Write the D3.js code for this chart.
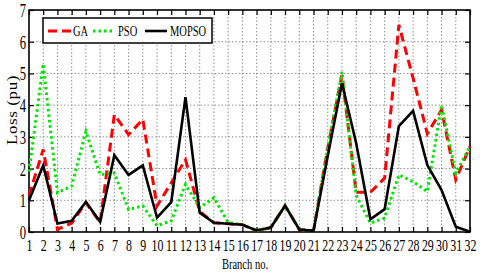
<!DOCTYPE html>
<html>
<head>
<meta charset="utf-8">
<script src="https://cdn.jsdelivr.net/npm/d3@7"></script>
<style>
  body { margin: 0; background: #fff; }
  text { font-family: "Liberation Serif", "Times New Roman", serif; fill: #000; }
</style>
</head>
<body>
<div class="chartdiv"></div>
<script>
var branches = d3.range(1, 33);
var yTicks = [0, 1, 2, 3, 4, 5, 6, 7];

var seriesNames = ["GA", "PSO", "MOPSO"];
var gaLoss = [1.15, 2.6, 0.08, 0.28, 0.93, 0.3, 3.7, 3.07, 3.55, 0.82, 1.55, 2.28, 0.65, 0.29, 0.26, 0.23,
              0.04, 0.14, 0.83, 0.08, 0.04, 2.65, 4.95, 1.25, 1.25, 1.7, 6.53, 4.85, 3.1, 3.85, 1.65, 2.7];
var psoLoss = [1.9, 5.3, 1.24, 1.45, 3.17, 1.81, 1.86, 0.71, 0.82, 0.2, 0.35, 1.5, 0.77, 1.08, 0.3, 0.23,
               0.04, 0.14, 0.83, 0.08, 0.04, 2.65, 5.05, 1.15, 0.28, 0.44, 1.8, 1.59, 1.27, 4.0, 1.85, 2.7];
var mopsoLoss = [1.0, 2.1, 0.27, 0.35, 0.95, 0.32, 2.42, 1.8, 2.1, 0.45, 0.94, 4.25, 0.61, 0.29, 0.26, 0.23,
                 0.05, 0.14, 0.83, 0.08, 0.04, 2.4, 4.69, 2.8, 0.4, 0.72, 3.34, 3.82, 2.11, 1.32, 0.17, 0.01];

var margin = {top: 10, right: 10, bottom: 42, left: 29};
var width = 480 - margin.left - margin.right;
var height = 274 - margin.top - margin.bottom;
var squeeze = 0.7; // the source figure is narrowed horizontally

var x = d3.scaleLinear().domain([1, 32]).range([0, width]);
var y = d3.scaleLinear().domain([0, 7]).range([height, 0]);

var svg = d3.select(".chartdiv")
    .append("svg")
    .attr("width", 480)
    .attr("height", 274)
  .append("g")
    .attr("transform", "translate(" + margin.left + "," + margin.top + ")");

// squeeze text horizontally around its anchor point
function narrow(sel) {
  sel.each(function() {
    var t = d3.select(this);
    var tx = +t.attr("x") || 0, ty = +t.attr("y") || 0;
    t.attr("x", 0).attr("y", 0)
     .attr("transform", "translate(" + tx + "," + ty + ") scale(" + squeeze + ",1)");
  });
}

// grid
svg.append("g").selectAll("line")
    .data(branches.slice(1, -1))
  .enter().append("line")
    .attr("x1", function(d) { return x(d); })
    .attr("x2", function(d) { return x(d); })
    .attr("y1", 0).attr("y2", height)
    .attr("stroke", "#777").attr("stroke-width", 0.8).attr("stroke-dasharray", "1.5,2");

svg.append("g").selectAll("line")
    .data(yTicks.slice(1, -1))
  .enter().append("line")
    .attr("x1", 0).attr("x2", width)
    .attr("y1", function(d) { return y(d); })
    .attr("y2", function(d) { return y(d); })
    .attr("stroke", "#777").attr("stroke-width", 0.8).attr("stroke-dasharray", "1.5,2");

// axes
var xAxis = svg.append("g")
    .attr("transform", "translate(0," + height + ")")
    .call(d3.axisBottom(x).tickValues(branches).tickSize(-5).tickFormat(d3.format("d")));
xAxis.selectAll("text")
    .attr("y", 19).attr("dy", 0)
    .style("font-size", "17px")
    .call(narrow);

var yAxis = svg.append("g")
    .call(d3.axisLeft(y).tickValues(yTicks).tickSize(-5).tickFormat(d3.format("d")));
yAxis.selectAll("text")
    .attr("x", -3)
    .attr("dy", "0.36em")
    .style("font-size", "18px")
    .call(narrow);

svg.append("g")
    .call(d3.axisTop(x).tickValues(branches).tickSize(-5).tickFormat(""));
svg.append("g")
    .attr("transform", "translate(" + width + ",0)")
    .call(d3.axisRight(y).tickValues(yTicks).tickSize(-5).tickFormat(""));

svg.selectAll(".domain").remove();
svg.selectAll(".tick line").attr("stroke", "#000").attr("stroke-width", 1.2);

svg.append("rect")
    .attr("width", width).attr("height", height)
    .attr("fill", "none").attr("stroke", "#000").attr("stroke-width", 1.6);

// series
var line = d3.line()
    .x(function(d, i) { return x(branches[i]); })
    .y(function(d) { return y(d); });

var styles = {
  GA: {color: "#ff0000", width: 3, dash: "9,5"},
  PSO: {color: "#00e600", width: 3, dash: "2.5,3"},
  MOPSO: {color: "#000000", width: 2.6, dash: null}
};
var values = {GA: gaLoss, PSO: psoLoss, MOPSO: mopsoLoss};

seriesNames.forEach(function(name) {
  svg.append("path")
      .datum(values[name])
      .attr("d", line)
      .attr("fill", "none")
      .attr("stroke", styles[name].color)
      .attr("stroke-width", styles[name].width)
      .attr("stroke-dasharray", styles[name].dash)
      .attr("stroke-linejoin", "miter");
});

// labels
svg.append("text")
    .attr("x", 216).attr("y", 259)
    .style("font-size", "15px")
    .style("text-anchor", "middle")
    .text("Branch no.")
    .call(narrow);

svg.append("text")
    .attr("transform", "translate(" + (16.5 - margin.left) + "," + (110 - margin.top) + ") scale(0.85,1) rotate(-90)")
    .style("font-size", "17px")
    .style("letter-spacing", "0.6px")
    .style("text-anchor", "middle")
    .text("Loss (pu)");

// legend
var legend = svg.append("g").attr("transform", "translate(" + (43 - margin.left) + "," + (18 - margin.top) + ")");
legend.append("rect")
    .attr("width", 169).attr("height", 25)
    .attr("fill", "#fff").attr("stroke", "#000").attr("stroke-width", 1.5);

var legendPos = {GA: [5, 28, 30], PSO: [50, 72, 75], MOPSO: [102, 124, 127]};
seriesNames.forEach(function(name) {
  var p = legendPos[name];
  legend.append("line")
      .attr("x1", p[0]).attr("x2", p[1])
      .attr("y1", 13).attr("y2", 13)
      .attr("stroke", styles[name].color)
      .attr("stroke-width", styles[name].width)
      .attr("stroke-dasharray", styles[name].dash);
  legend.append("text")
      .attr("x", p[2]).attr("y", 18)
      .style("font-size", "15px")
      .text(name)
      .call(narrow);
});
</script>
</body>
</html>
